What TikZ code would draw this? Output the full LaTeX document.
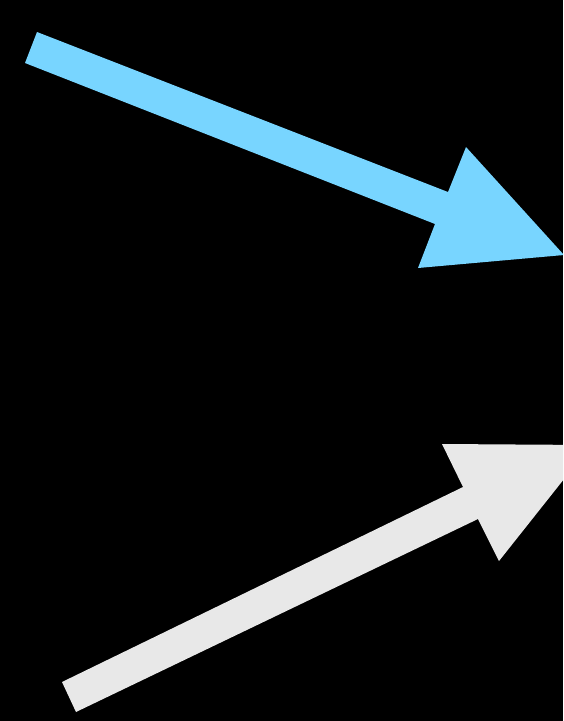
\documentclass[tikz,border=0pt]{standalone}
\definecolor{arrowblue}{RGB}{120,213,255}
\definecolor{arrowwhite}{RGB}{232,232,232}
\begin{document}
\begin{tikzpicture}[x=1pt,y=-1pt]
\useasboundingbox (0,0) rectangle (563,721);
\clip (0,0) rectangle (563,721);
\fill[black] (0,0) rectangle (563,721);
% blue arrow
\fill[arrowblue] (37,32) -- (448,192) -- (466,147) -- (564,255) -- (418,268) -- (435,224) -- (25,63) -- cycle;
% white arrow
\fill[arrowwhite] (62,682) -- (463,487) -- (442,444) -- (591,445) -- (499,561) -- (478,519) -- (76,712) -- cycle;
\end{tikzpicture}
\end{document}
